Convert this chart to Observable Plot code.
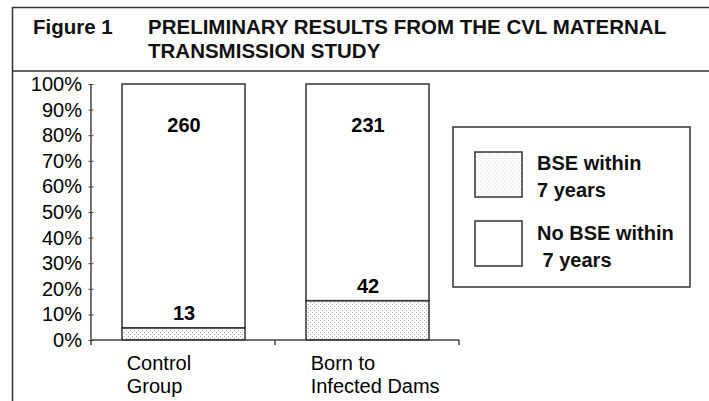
<!DOCTYPE html>
<html>
<head>
<meta charset="utf-8">
<script src="https://cdn.jsdelivr.net/npm/d3@7"></script>
<script src="https://cdn.jsdelivr.net/npm/@observablehq/plot@0.6"></script>
<style>
  body { margin: 0; background: #fff; }
  #wrap { position: relative; width: 709px; height: 401px; overflow: hidden; background: #fff; }
  #wrap svg { position: absolute; left: 0; top: 0; }
</style>
</head>
<body>
<div id="wrap"></div>
<script>
// ---- data ----
const groups = ["Control\nGroup", "Born to\nInfected Dams"];
const seriesNames = ["BSE", "No BSE"];
const bseCounts = [13, 42];
const noBseCounts = [260, 231];
const yTickValues = [0, 10, 20, 30, 40, 50, 60, 70, 80, 90, 100];
const legendLabels = ["BSE within\n7 years", "No BSE within\n\u00a07 years"];
const figureLabel = "Figure 1";
const titleLines = ["PRELIMINARY RESULTS FROM THE CVL MATERNAL", "TRANSMISSION STUDY"];

const rows = [];
groups.forEach((g, i) => {
  rows.push({group: g, series: seriesNames[0], count: bseCounts[i]});
  rows.push({group: g, series: seriesNames[1], count: noBseCounts[i]});
});

const FONT = "'Liberation Sans', Arial, sans-serif";
const W = 709, H = 401;
const mL = 91, mR = 250, mT = 84, mB = 61;
const padIn = 1/3, padOut = 1/6;
const step = (W - mL - mR) / groups.length;
const bw = step * (1 - padIn);

const wrap = document.getElementById("wrap");

// overlay with pattern defs, frame, title and legend
const ov = d3.create("svg").attr("width", W).attr("height", H)
  .style("font-family", FONT);
const defs = ov.append("defs");
function addDots(id, color) {
  const pat = defs.append("pattern").attr("id", id)
    .attr("patternUnits", "userSpaceOnUse").attr("width", 4).attr("height", 4);
  pat.append("rect").attr("width", 4).attr("height", 4).attr("fill", "#fff");
  pat.append("rect").attr("x", 0).attr("y", 0).attr("width", 1).attr("height", 1).attr("fill", color);
  pat.append("rect").attr("x", 2).attr("y", 2).attr("width", 1).attr("height", 1).attr("fill", color);
}
addDots("dots", "#a8a8a8");
addDots("dotsLight", "#e2e2e2");

const chart = Plot.plot({
  width: W,
  height: H,
  marginLeft: mL,
  marginRight: mR,
  marginTop: mT,
  marginBottom: mB,
  style: {fontFamily: FONT, fontSize: "20px", background: "transparent", color: "#000"},
  x: {domain: groups, paddingInner: padIn, paddingOuter: padOut, label: null},
  y: {domain: [0, 1], label: null},
  color: {domain: seriesNames, range: ["url(#dots)", "#ffffff"]},
  marks: [
    Plot.barY(rows, Plot.stackY({
      x: "group", y: "count", z: "series", fill: "series", offset: "normalize",
      stroke: "#333", strokeWidth: 1.5
    })),
    // axis lines and band-boundary ticks
    (index, scales, values, dims) => {
      const g = d3.create("svg:g").attr("stroke", "#444").attr("stroke-width", 1.5);
      const x0 = dims.marginLeft, x1 = dims.width - dims.marginRight;
      const y0 = scales.y(0), y1 = scales.y(1);
      g.append("line").attr("x1", x0).attr("x2", x0).attr("y1", y1).attr("y2", y0);
      g.append("line").attr("x1", x0).attr("x2", x1).attr("y1", y0).attr("y2", y0);
      const n = groups.length, s = (x1 - x0) / n;
      for (let i = 0; i <= n; ++i) {
        g.append("line").attr("x1", x0 + i * s).attr("x2", x0 + i * s).attr("y1", y0).attr("y2", y0 + 5);
      }
      return g.node();
    },
    Plot.axisY({
      ticks: yTickValues.map(v => v / 100),
      tickFormat: d => Math.round(d * 100) + "%",
      tickSize: 5, dx: 2.5, tickPadding: 7, fontSize: 20, stroke: "#444"
    }),
    Plot.axisX({
      tickSize: 0, tickPadding: 13, textAnchor: "start", dx: -bw / 2 + 4,
      fontSize: 20, lineHeight: 1.15
    }),
    Plot.text(rows, Plot.stackY2({
      x: "group", y: "count", z: "series", offset: "normalize",
      text: d => d.series === seriesNames[0] ? String(d.count) : null,
      dy: -15, fontSize: 20, fontWeight: "bold", fill: "#000"
    })),
    Plot.text(rows, Plot.stackY2({
      x: "group", y: "count", z: "series", offset: "normalize",
      text: d => d.series === seriesNames[1] ? String(d.count) : null,
      dy: 41, fontSize: 20, fontWeight: "bold", fill: "#000"
    }))
  ]
});

wrap.appendChild(chart);

// frame
const fr = ov.append("g").attr("stroke", "#333").attr("stroke-width", 1.5).attr("fill", "none");
fr.append("line").attr("x1", 12).attr("x2", W).attr("y1", 7.5).attr("y2", 7.5);
fr.append("line").attr("x1", 12.5).attr("x2", 12.5).attr("y1", 7).attr("y2", H);
fr.append("line").attr("x1", 12).attr("x2", W).attr("y1", 71).attr("y2", 71);

// title
const tt = ov.append("g").attr("font-weight", "bold").attr("font-size", 20.5).attr("fill", "#111");
tt.append("text").attr("x", 33).attr("y", 34).text(figureLabel);
titleLines.forEach((t, i) => tt.append("text").attr("x", 148).attr("y", 34 + i * 24).text(t));

// legend
const lg = ov.append("g");
lg.append("rect").attr("x", 453).attr("y", 127).attr("width", 237).attr("height", 160)
  .attr("fill", "#fff").attr("stroke", "#333").attr("stroke-width", 1.5);
const swFills = ["url(#dotsLight)", "#fff"];
legendLabels.forEach((lab, i) => {
  const top = 152 + i * 69;
  lg.append("rect").attr("x", 475).attr("y", top).attr("width", 47).attr("height", 45)
    .attr("fill", swFills[i]).attr("stroke", "#333").attr("stroke-width", 1.5);
  lab.split("\n").forEach((line, j) => {
    lg.append("text").attr("x", 537).attr("y", 170 + i * 70 + j * 26.5)
      .attr("font-size", 20).attr("font-weight", "bold").attr("fill", "#111")
      .attr("xml:space", "preserve").text(line);
  });
});

wrap.appendChild(ov.node());
</script>
</body>
</html>
